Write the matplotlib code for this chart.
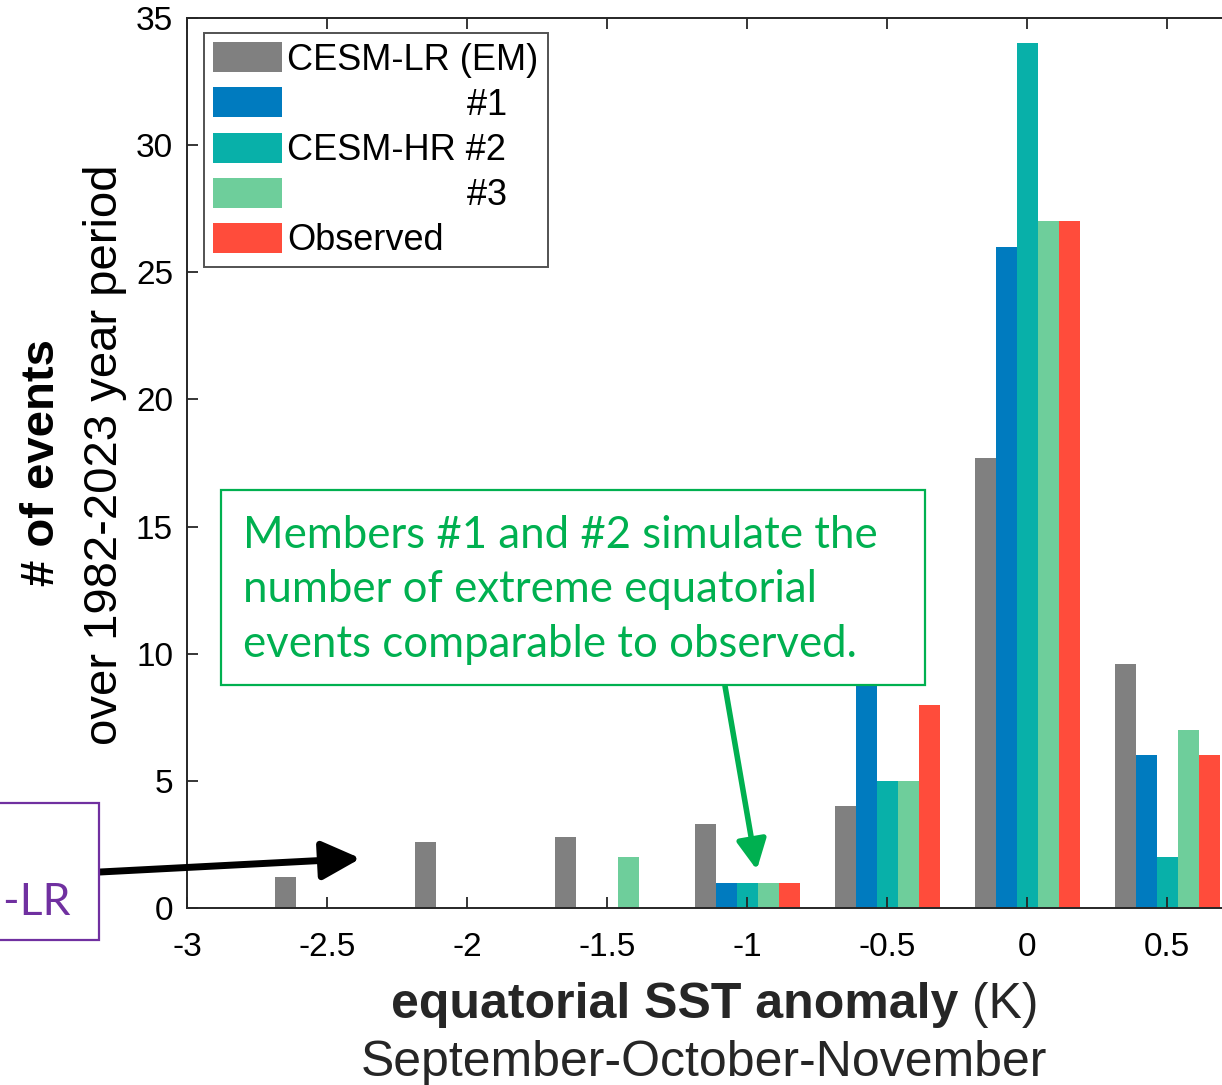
import numpy as np
import matplotlib
matplotlib.use("Agg")
import matplotlib.pyplot as plt
from matplotlib.patches import Rectangle

plt.rcParams["font.family"] = ["Liberation Sans", "DejaVu Sans"]
plt.rcParams["axes.unicode_minus"] = False

# ------------------------------------------------------------
# data
# ------------------------------------------------------------
bin_centers = [-2.5, -2.0, -1.5, -1.0, -0.5, 0.0, 0.5]
cesm_lr_em = [1.2, 2.6, 2.8, 3.3, 4.0, 17.7, 9.6]
cesm_hr1 = [0, 0, 0, 1, 10, 26, 6]
cesm_hr2 = [0, 0, 0, 1, 5, 34, 2]
cesm_hr3 = [0, 0, 2, 1, 5, 27, 7]
observed = [0, 0, 0, 1, 8, 27, 6]

series = [cesm_lr_em, cesm_hr1, cesm_hr2, cesm_hr3, observed]
labels = ["CESM-LR (EM)", " " * 18 + "#1", "CESM-HR #2", " " * 18 + "#3", "Observed"]
colors = ["#808080", "#007BBF", "#08B0A9", "#6ECE9B", "#FF4C3B"]
x_ticks = [-3, -2.5, -2, -1.5, -1, -0.5, 0, 0.5]
y_ticks = [0, 5, 10, 15, 20, 25, 30, 35]

W, H = 1222, 1085
fig = plt.figure(figsize=(W / 100, H / 100), dpi=100)


def fx(x):
    return x / W


def fy(y):
    return 1 - y / H


# axes (right edge runs past the picture, as in the cropped original)
ax = fig.add_axes([fx(187), fy(908), 1050 / W, (908 - 18) / H])

bw = 0.075
centers = np.array(bin_centers)
for i, (vals, lab, col) in enumerate(zip(series, labels, colors)):
    ax.bar(centers + (i - 2) * bw, vals, width=bw, color=col, label=lab,
           linewidth=0)

ax.set_xlim(-3, 0.75)
ax.set_ylim(0, 35)
ax.set_xticks(x_ticks)
ax.set_xticklabels([f"{t:g}" for t in x_ticks])
ax.set_yticks(y_ticks)
ax.tick_params(direction="in", top=True, right=True, length=8, width=1.3,
               labelsize=24, color="#262626")
ax.tick_params(axis="x", pad=17)
ax.tick_params(axis="y", pad=10)
for s in ax.spines.values():
    s.set_linewidth(1.4)
    s.set_color("#262626")

leg = ax.legend(loc="upper left", bbox_to_anchor=(0.0165, 0.983), fontsize=26,
                frameon=True, fancybox=False, edgecolor="#262626",
                handlelength=1.9, handleheight=0.9, labelspacing=0.27,
                handletextpad=0.15, borderpad=0.25, borderaxespad=0)
leg.get_frame().set_linewidth(1.4)

# axis labels
fig.text(fx(42), fy(462), "# of events", rotation=90, fontsize=34,
         fontweight="bold", ha="center", va="center")
fig.text(fx(105), fy(455), "over 1982-2023 year period", rotation=90,
         fontsize=34, ha="center", va="center")
fig.text(fx(958), fy(1018), "equatorial SST anomaly", fontsize=36,
         fontweight="bold", ha="right", va="baseline", color="#262626")
fig.text(fx(958), fy(1018), " (K)", fontsize=36, ha="left", va="baseline",
         color="#262626")
fig.text(fx(704), fy(1076), "September-October-November", fontsize=36,
         ha="center", va="baseline", color="#262626")

# green call-out
green = "#00B050"
fig.add_artist(Rectangle((fx(221), fy(685)), fx(925) - fx(221), fy(490) - fy(685),
                         transform=fig.transFigure, facecolor="white",
                         edgecolor=green, linewidth=1.6, zorder=5))
fig.text(fx(243), fy(590), "Members #1 and #2 simulate the\n"
         "number of extreme equatorial\nevents comparable to observed.",
         family=["Lato", "DejaVu Sans"], fontsize=31.5, color=green,
         ha="left", va="center", linespacing=1.42, zorder=6)
ax.annotate("", xy=(-0.965, 1.5), xycoords="data",
            xytext=(fx(725), fy(686)), textcoords="figure fraction",
            arrowprops=dict(arrowstyle="-|>,head_length=1.2,head_width=0.6",
                            mutation_scale=15, color=green, lw=4,
                            shrinkA=0, shrinkB=0), zorder=6,
            annotation_clip=False)

# purple call-out (cut at the left edge, as in the original)
purple = "#7030A0"
fig.add_artist(Rectangle((fx(-300), fy(940)), fx(99) - fx(-300), fy(803) - fy(940),
                         transform=fig.transFigure, facecolor="white",
                         edgecolor=purple, linewidth=1.6, zorder=5))
fig.text(fx(71), fy(915), "CESM-LR", family=["Lato", "DejaVu Sans"],
         fontsize=32, color=purple, ha="right", va="baseline", zorder=6)
ax.annotate("", xy=(-2.38, 1.95), xycoords="data",
            xytext=(fx(100), fy(872)), textcoords="figure fraction",
            arrowprops=dict(arrowstyle="-|>,head_length=1.3,head_width=0.65",
                            mutation_scale=18, color="black", lw=5,
                            shrinkA=0, shrinkB=0), zorder=6,
            annotation_clip=False)

fig.savefig("out.png", dpi=100)
